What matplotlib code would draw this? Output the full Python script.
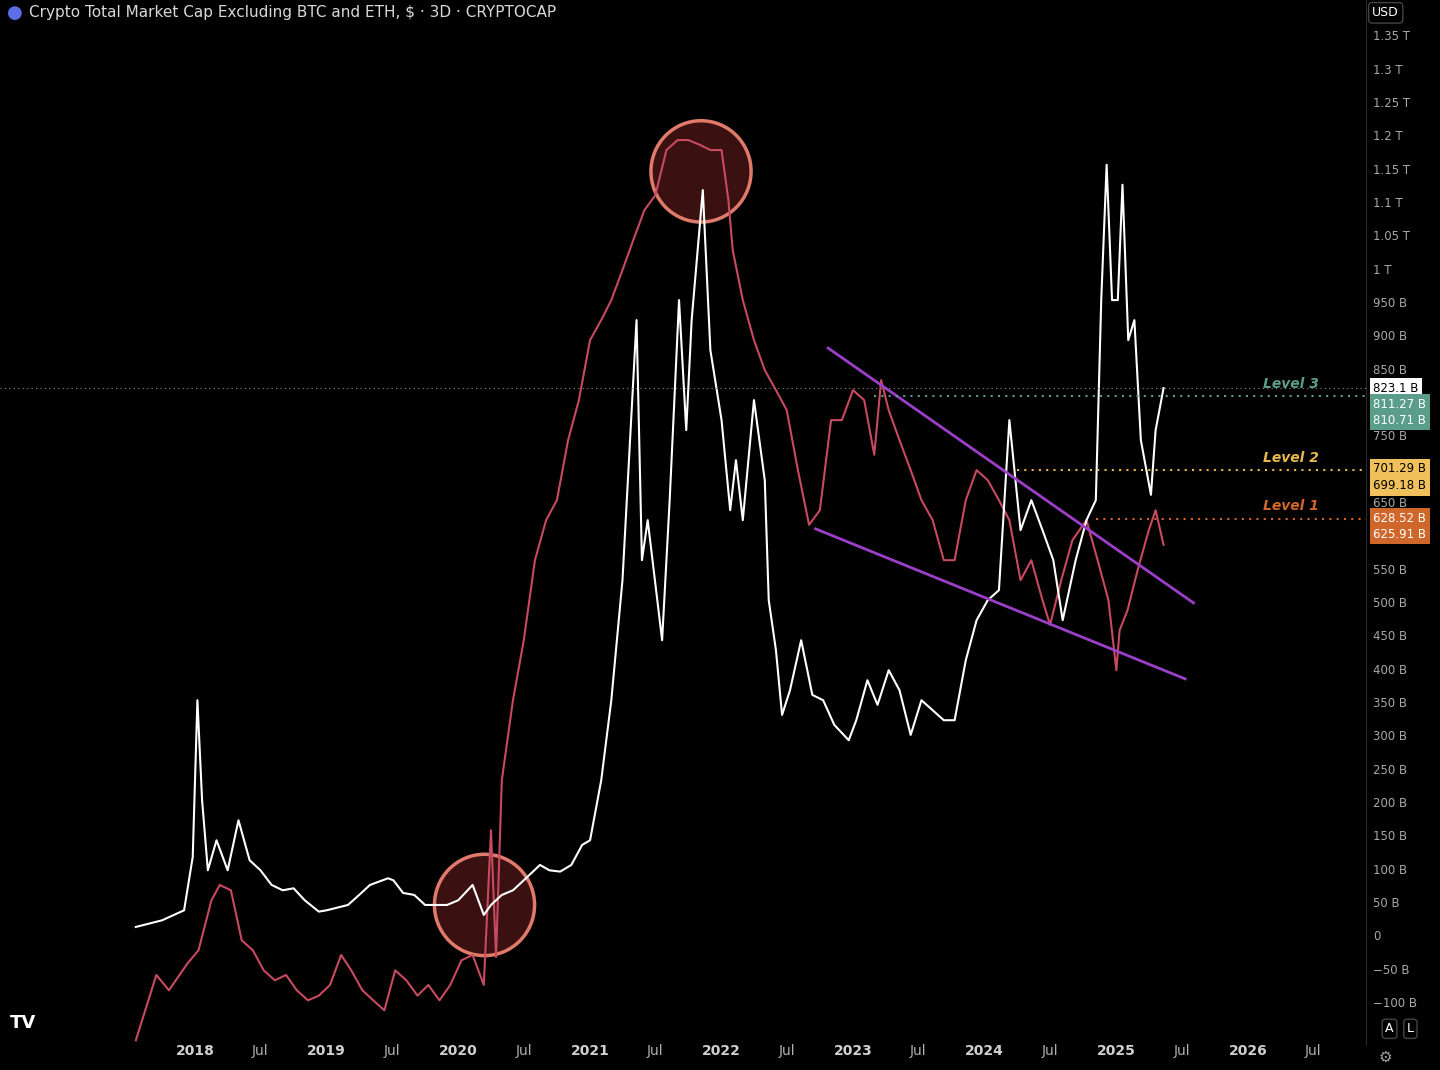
import matplotlib
matplotlib.use("Agg")
import matplotlib.pyplot as plt
import matplotlib.dates as mdates
from matplotlib.patches import Ellipse
import pandas as pd

# TOTAL3 market cap (white), billions USD
white_dates = ["2017-07-20", "2017-10-01", "2017-12-01", "2017-12-25", "2018-01-07", "2018-01-20",
               "2018-02-05", "2018-03-01", "2018-04-01", "2018-05-01", "2018-06-01", "2018-07-01",
               "2018-08-01", "2018-09-01", "2018-10-01", "2018-11-01", "2018-12-10", "2019-01-01",
               "2019-03-01", "2019-04-01", "2019-05-01", "2019-06-20", "2019-07-05", "2019-08-01",
               "2019-09-01", "2019-10-01", "2019-12-01", "2020-01-01", "2020-02-10", "2020-03-12",
               "2020-04-01", "2020-05-01", "2020-06-01", "2020-07-01", "2020-08-15", "2020-09-10",
               "2020-10-10", "2020-11-10", "2020-12-10", "2021-01-01", "2021-02-01", "2021-03-01",
               "2021-04-01", "2021-05-10", "2021-05-25", "2021-06-10", "2021-07-20", "2021-08-10",
               "2021-09-05", "2021-09-25", "2021-10-10", "2021-11-10", "2021-12-01", "2022-01-01",
               "2022-01-25", "2022-02-10", "2022-03-01", "2022-04-01", "2022-05-01", "2022-05-12",
               "2022-06-01", "2022-06-18", "2022-07-10", "2022-08-10", "2022-09-10", "2022-10-10",
               "2022-11-10", "2022-12-20", "2023-01-10", "2023-02-10", "2023-03-10", "2023-04-10",
               "2023-05-10", "2023-06-10", "2023-07-10", "2023-08-10", "2023-09-10", "2023-10-10",
               "2023-11-10", "2023-12-10", "2024-01-10", "2024-02-10", "2024-03-10", "2024-04-10",
               "2024-05-10", "2024-06-10", "2024-07-10", "2024-08-05", "2024-09-10", "2024-10-10",
               "2024-11-05", "2024-11-20", "2024-12-05", "2024-12-20", "2025-01-05", "2025-01-18",
               "2025-02-03", "2025-02-20", "2025-03-10", "2025-04-07", "2025-04-20", "2025-05-12"]
white_vals = [15, 25, 40, 120, 355, 205,
              100, 145, 100, 175, 115, 100,
              78, 70, 73, 55, 38, 40,
              48, 63, 78, 88, 85, 66,
              63, 48, 48, 55, 78, 33,
              48, 63, 70, 85, 108, 100,
              98, 108, 138, 145, 235, 355,
              535, 925, 565, 625, 445, 655,
              955, 760, 925, 1120, 880, 775,
              640, 715, 625, 805, 685, 505,
              430, 333, 370, 445, 363, 355,
              318, 295, 325, 385, 348, 400,
              370, 303, 355, 340, 325, 325,
              415, 475, 505, 520, 775, 610,
              655, 610, 565, 475, 565, 625,
              655, 955, 1158, 955, 955, 1128,
              895, 925, 745, 663, 760, 823]

# overlay series (red), plotted on the same scale
red_dates = ["2017-07-20", "2017-09-15", "2017-10-20", "2017-12-10", "2018-01-10", "2018-02-15",
             "2018-03-10", "2018-04-10", "2018-05-10", "2018-06-10", "2018-07-10", "2018-08-10",
             "2018-09-10", "2018-10-10", "2018-11-10", "2018-12-10", "2019-01-10", "2019-02-10",
             "2019-03-10", "2019-04-10", "2019-05-10", "2019-06-10", "2019-07-10", "2019-08-10",
             "2019-09-10", "2019-10-10", "2019-11-10", "2019-12-10", "2020-01-10", "2020-02-10",
             "2020-03-12", "2020-04-01", "2020-04-15", "2020-05-01", "2020-06-01", "2020-07-01",
             "2020-08-01", "2020-09-01", "2020-10-01", "2020-11-01", "2020-12-01", "2021-01-01",
             "2021-02-01", "2021-03-01", "2021-04-01", "2021-05-01", "2021-06-01", "2021-07-01",
             "2021-08-01", "2021-09-01", "2021-10-01", "2021-11-01", "2021-12-01", "2022-01-01",
             "2022-01-20", "2022-02-01", "2022-03-01", "2022-04-01", "2022-05-01", "2022-06-01",
             "2022-07-01", "2022-08-01", "2022-09-01", "2022-10-01", "2022-11-01", "2022-12-01",
             "2023-01-01", "2023-02-01", "2023-03-01", "2023-03-20", "2023-04-10", "2023-05-10",
             "2023-06-10", "2023-07-10", "2023-08-10", "2023-09-10", "2023-10-10", "2023-11-10",
             "2023-12-10", "2024-01-10", "2024-02-10", "2024-03-10", "2024-04-10", "2024-05-10",
             "2024-06-10", "2024-07-01", "2024-08-01", "2024-09-01", "2024-10-10", "2024-11-10",
             "2024-12-10", "2025-01-01", "2025-01-10", "2025-02-01", "2025-03-01", "2025-04-01",
             "2025-04-20", "2025-05-12"]
red_vals = [-155, -57, -80, -40, -20, 55,
            78, 70, -5, -20, -50, -65,
            -57, -80, -95, -88, -72, -27,
            -50, -80, -95, -110, -50, -65,
            -88, -72, -95, -72, -35, -27,
            -72, 160, -30, 235, 355, 445,
            565, 625, 655, 745, 805, 895,
            925, 955, 1000, 1045, 1090, 1112,
            1180, 1195, 1195, 1188, 1180, 1180,
            1105, 1030, 955, 895, 850, 820,
            790, 700, 618, 640, 775, 775,
            820, 805, 723, 835, 790, 745,
            700, 655, 625, 565, 565, 655,
            700, 685, 655, 625, 535, 565,
            505, 468, 535, 595, 625, 565,
            505, 400, 460, 490, 550, 610,
            640, 588]

y_ticks = list(range(-100, 1351, 50))
x_ticks = ["2018-01-01", "2018-07-01", "2019-01-01", "2019-07-01", "2020-01-01", "2020-07-01",
           "2021-01-01", "2021-07-01", "2022-01-01", "2022-07-01", "2023-01-01", "2023-07-01",
           "2024-01-01", "2024-07-01", "2025-01-01", "2025-07-01", "2026-01-01", "2026-07-01"]
x_labels = ["2018", "Jul", "2019", "Jul", "2020", "Jul", "2021", "Jul", "2022", "Jul",
            "2023", "Jul", "2024", "Jul", "2025", "Jul", "2026", "Jul"]

levels = [("Level 3", 811, "#5a9e8a", "2023-03-01"),
          ("Level 2", 700, "#e8b84a", "2024-04-01"),
          ("Level 1", 627, "#d0672a", "2024-11-05")]
# (value, label, background, text colour, drawn position)
tags = [(823.1, "823.1 B", "white", "black", 823),
        (811.27, "811.27 B", "#5a9e8a", "white", 799),
        (810.71, "810.71 B", "#5a9e8a", "white", 775),
        (701.29, "701.29 B", "#f0c05a", "black", 702),
        (699.18, "699.18 B", "#f0c05a", "black", 677),
        (628.52, "628.52 B", "#d0672a", "white", 628),
        (625.91, "625.91 B", "#d0672a", "white", 604)]


def d(s):
    return mdates.date2num(pd.Timestamp(s))


def fmt(v):
    if v == 0:
        return "0"
    if abs(v) >= 1000:
        return f"{v/1000:g} T"
    return f"{v:g} B".replace("-", "\u2212")


fig = plt.figure(figsize=(14.4, 10.7), dpi=100, facecolor="black")
ax = fig.add_axes([0, 25 / 1070, 1366 / 1440, 1045 / 1070])
ax.set_facecolor("black")
ax.set_xlim(d("2016-07-08"), d("2026-11-25"))
ax.set_ylim(-162, 1405)
for s in ax.spines.values():
    s.set_visible(False)

ax.plot([d(x) for x in red_dates], red_vals, color="#c84a60", lw=1.5)
ax.plot([d(x) for x in white_dates], white_vals, color="white", lw=1.5)

for cx, cy in [("2021-11-05", 1148), ("2020-03-14", 48)]:
    ax.add_patch(Ellipse((d(cx), cy), 278, 152, facecolor="#5a1a1a", alpha=0.65, edgecolor="none"))
    ax.add_patch(Ellipse((d(cx), cy), 278, 152, facecolor="none", edgecolor="#e07a6a", lw=2.5))

ax.plot([d("2022-10-24"), d("2025-08-03")], [883, 501], color="#9b3fc8", lw=2)
ax.plot([d("2022-09-19"), d("2025-07-11")], [612, 387], color="#9b3fc8", lw=2)

ax.axhline(823.1, color="#888888", lw=0.8, ls=(0, (1, 3)))
for name, v, c, start in levels:
    ax.plot([d(start), ax.get_xlim()[1]], [v, v], color=c, lw=1.5, ls=(0, (1, 2.5)))
    ax.text(d("2026-05-01"), v + 8, name, color=c, fontsize=10, style="italic",
            fontweight="bold", ha="center", va="bottom")

ax.set_xticks([d(x) for x in x_ticks])
ax.set_xticklabels(x_labels)
ax.tick_params(axis="x", colors="#b0b0b0", length=0, labelsize=10, pad=-1)
for lab, t in zip(ax.get_xticklabels(), x_labels):
    if not t.startswith("Jul"):
        lab.set_fontweight("bold")
        lab.set_color("#d0d0d0")
ax.set_yticks([])

# right price scale
pax = fig.add_axes([1366 / 1440, 25 / 1070, 74 / 1440, 1045 / 1070], sharey=ax)
pax.set_facecolor("black")
pax.set_xlim(0, 1)
pax.set_xticks([])
pax.set_yticks([])
for s in pax.spines.values():
    s.set_visible(False)
pax.spines["left"].set_visible(True)
pax.spines["left"].set_color("#2a2a2a")
hidden = {800, 700, 600}
for v in y_ticks:
    if v in hidden:
        continue
    pax.text(0.1, v, fmt(v), color="#a8a8a8", fontsize=8.5, va="center", zorder=1)
for v, txt, bg, fg, yv in tags:
    pax.text(0.1, yv, txt, color=fg, fontsize=8.5, va="center", zorder=5,
             bbox=dict(boxstyle="square,pad=0.3", fc=bg, ec="none"))

fig.text(0.005, 0.988, "\u25cf", color="#5b6ee8", fontsize=13, va="center")
fig.text(0.02, 0.988, "Crypto Total Market Cap Excluding BTC and ETH, $ \u00b7 3D \u00b7 CRYPTOCAP",
         color="#d8d8d8", fontsize=11, va="center")
fig.text(0.007, 0.044, "TV", color="white", fontsize=13, fontweight="bold", va="center")
fig.text(0.957, 0.012, "\u2699", color="#a0a0a0", fontsize=11, va="center")
fig.text(0.953, 0.988, "USD", color="white", fontsize=9, va="center",
         bbox=dict(boxstyle="round,pad=0.3", fc="black", ec="#444444"))
fig.text(0.962, 0.0385, "A", color="white", fontsize=9, va="center",
         bbox=dict(boxstyle="round,pad=0.25", fc="black", ec="#444444"))
fig.text(0.977, 0.0385, "L", color="white", fontsize=9, va="center",
         bbox=dict(boxstyle="round,pad=0.25", fc="black", ec="#444444"))

fig.savefig("out.png", dpi=100, facecolor="black")
